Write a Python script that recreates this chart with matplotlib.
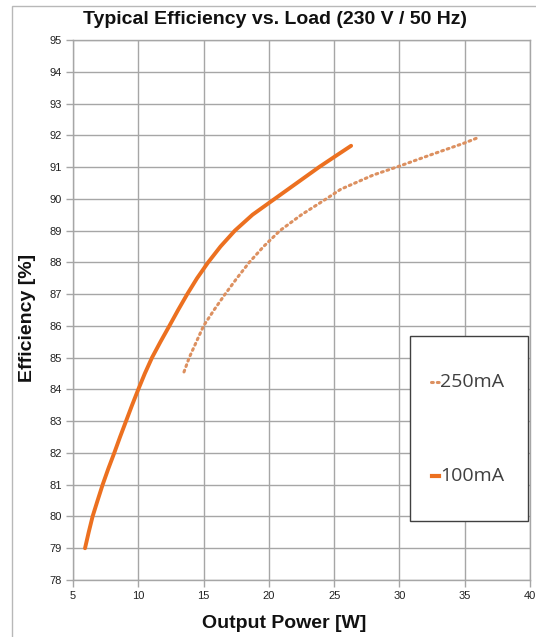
import matplotlib
matplotlib.use("Agg")
import matplotlib.pyplot as plt
from matplotlib.patches import Rectangle
from matplotlib.lines import Line2D

# Data
p_100mA = [5.92, 6.2, 6.5, 6.88, 7.27, 7.7, 8.16, 8.6, 9.06, 9.52, 10.0, 10.5, 11.05,
           11.7, 12.38, 13.05, 13.75, 14.5, 15.35, 16.3, 17.4, 18.75, 20.45, 22.15, 23.85,
           25.05, 26.3]
eff_100mA = [79.0, 79.5, 80.0, 80.5, 81.0, 81.5, 82.0, 82.5, 83.0, 83.5, 84.0, 84.5, 85.0,
             85.5, 86.0, 86.5, 87.0, 87.5, 88.0, 88.5, 89.0, 89.5, 90.0, 90.5, 91.0,
             91.33, 91.67]

p_250mA = [13.5, 13.9, 14.45, 15.0, 15.8, 16.65, 17.55, 18.5, 19.6, 20.85, 22.5, 24.4,
           25.5, 26.5, 28.0, 30.0, 32.5, 35.0, 36.1]
eff_250mA = [84.55, 85.0, 85.5, 86.0, 86.5, 87.0, 87.5, 88.0, 88.5, 89.0, 89.5, 90.0,
             90.3, 90.48, 90.75, 91.03, 91.4, 91.76, 91.94]

x_ticks = [5, 10, 15, 20, 25, 30, 35, 40]
y_ticks = list(range(78, 96))
labels = ["250mA", "100mA"]

title = "Typical Efficiency vs. Load (230 V / 50 Hz)"
xlabel = "Output Power [W]"
ylabel = "Efficiency [%]"

solid_col = "#EC7020"
dot_col = "#DC9060"
grid_col = "#A6A6A6"

fig = plt.figure(figsize=(5.36, 6.37), dpi=100)
# outer chart frame
fig.patches.append(Rectangle((12 / 536, -0.05), 1.1, (637 - 6) / 637 + 0.05,
                             transform=fig.transFigure, fill=False,
                             edgecolor="#B8B8B8", lw=1.0, zorder=0))

ax = fig.add_axes([73 / 536, (637 - 580) / 637, (530 - 73) / 536, 540 / 637])
ax.set_xlim(5, 40)
ax.set_ylim(78, 95)
ax.set_xticks(x_ticks)
ax.set_yticks(y_ticks)
ax.grid(True, color=grid_col, lw=1.0)
ax.set_axisbelow(True)
for s in ax.spines.values():
    s.set_color(grid_col)
    s.set_linewidth(1.0)
ax.tick_params(axis="both", colors=grid_col, length=5, width=1.0,
               labelcolor="#222222", labelsize=8)
ax.tick_params(axis="y", pad=3)
ax.tick_params(axis="x", pad=3)
for lab in ax.get_xticklabels() + ax.get_yticklabels():
    lab.set_fontfamily("Liberation Sans")

ax.plot(p_250mA, eff_250mA, color=dot_col, lw=2.2, linestyle=(0, (0.6, 1.3)),
        dash_capstyle="round", solid_capstyle="round", zorder=3)
ax.plot(p_100mA, eff_100mA, color=solid_col, lw=2.8, solid_capstyle="round",
        solid_joinstyle="round", zorder=4)

fig.text(275 / 536, 1 - 20 / 637, title, ha="center", va="center",
         fontsize=14, fontweight="bold", family="Liberation Sans", color="#111111")
fig.text(284 / 536, 1 - 623 / 637, xlabel, ha="center", va="center",
         fontsize=14, fontweight="bold", family="Liberation Sans", color="#111111")
fig.text(28 / 536, 1 - 318 / 637, ylabel, ha="center", va="center", rotation=90,
         fontsize=14, fontweight="bold", family="Liberation Sans", color="#111111")

# legend box
ax.add_patch(Rectangle((0.737, 0.109), 0.259, 0.343, transform=ax.transAxes,
                       facecolor="white", edgecolor="#404040", lw=1.0, zorder=5))
ax.add_line(Line2D([0.784, 0.800], [0.366, 0.366], transform=ax.transAxes,
                   color=dot_col, lw=2.2, linestyle=(0, (0.6, 1.3)),
                   dash_capstyle="round", zorder=6))
ax.add_line(Line2D([0.786, 0.800], [0.192, 0.192], transform=ax.transAxes,
                   color=solid_col, lw=3.0, zorder=6))
ax.text(0.803, 0.366, labels[0], transform=ax.transAxes, ha="left", va="center",
        fontsize=14, family="Open Sans", color="#404040", zorder=6)
ax.text(0.803, 0.192, labels[1], transform=ax.transAxes, ha="left", va="center",
        fontsize=14, family="Open Sans", color="#404040", zorder=6)

fig.savefig("out.png", dpi=100)
